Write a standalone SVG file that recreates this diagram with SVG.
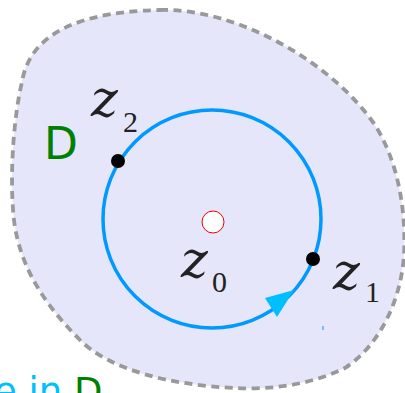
<svg xmlns="http://www.w3.org/2000/svg" width="405" height="393" viewBox="0 0 405 393">
<style>
.region{fill:#e6e6fa;stroke:#999;stroke-width:3.8;stroke-dasharray:8,5.5}
.curve{fill:none;stroke:#0099ff;stroke-width:3.5}
.pt{fill:#000}
.zl{font-family:"DejaVu Serif",serif;font-style:italic;font-size:51px;fill:#222}
.sub{font-family:"Liberation Serif",serif;font-size:30px;fill:#222}
.dl{font-family:"DejaVu Sans",sans-serif;font-size:44px;fill:#008000}
.cap{font-family:"DejaVu Sans",sans-serif;font-size:37px}
</style>
<g id="region">
<path class="region" d="M160,10 C235,8 330,60 375,125 C400,165 406,215 404,255 C401,300 380,345 345,368 C310,385 270,390 235,388 C170,385 110,370 80,340 C48,308 20,270 14,220 C9,175 14,115 22,82 C28,45 60,12 160,10 Z"/>
<text class="dl" x="44" y="159">D</text>
</g>
<g id="connectors">
<circle class="curve" cx="212" cy="219" r="109"/>
<polygon points="294,290 265,298 277,317" fill="#00bfff"/>
<line x1="323" y1="326" x2="323" y2="330" stroke="#0099ff" stroke-width="1"/>
</g>
<g id="z0">
<circle cx="213" cy="222" r="11" fill="#fff" stroke="#e00" stroke-width="1"/>
<text class="zl" x="181" y="277">z</text>
<text class="sub" x="212" y="292">0</text>
</g>
<g id="z1">
<circle class="pt" cx="313" cy="259" r="7"/>
<text class="zl" x="333" y="289">z</text>
<text class="sub" x="365" y="302">1</text>
</g>
<g id="z2">
<circle class="pt" cx="118" cy="161" r="7"/>
<text class="zl" x="91" y="116">z</text>
<text class="sub" x="123" y="132">2</text>
</g>
<g id="caption">
<text class="cap" x="-6" y="404"><tspan fill="#00bfff">e in </tspan><tspan fill="#008000">D</tspan></text>
</g>
</svg>
